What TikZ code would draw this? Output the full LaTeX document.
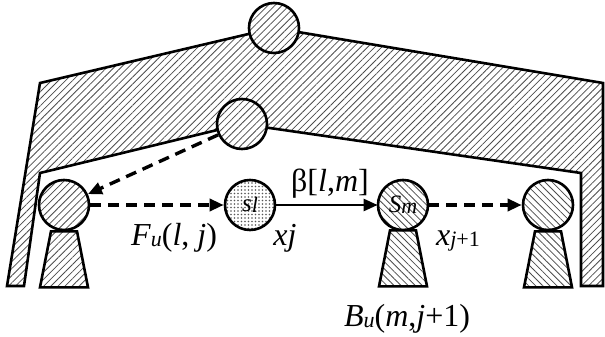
\documentclass[tikz,border=0pt]{standalone}
\usepackage{fontspec}
\setmainfont{Liberation Serif}
\usepackage{tikz}
\usetikzlibrary{calc, arrows.meta, patterns, patterns.meta}
\newcommand{\lo}[1]{\raisebox{-1pt}{\fontsize{22}{22}\selectfont #1}}

\begin{document}
\begin{tikzpicture}[x=1pt, y=-1pt,
    hatchr/.style = {pattern={Lines[angle=45, distance=5pt, line width=.8pt]}, pattern color=black!70},
    hatchl/.style = {pattern={Lines[angle=-45, distance=5pt, line width=.8pt]}, pattern color=black!70},
    dotty/.style = {pattern={Dots[distance=3.5pt, radius=.8pt]}, pattern color=black!65},
    ball/.style = {draw, circle, line width=2.6pt, minimum size=50pt, inner sep=0pt, preaction={fill=white}},
    thick line/.style = {line width=2.6pt, line join=miter},
    dasharrow/.style = {line width=3.4pt, dash pattern=on 11pt off 7pt, -{Triangle[length=14pt, width=12pt]}},
    fullarrow/.style = {line width=2.6pt, -{Triangle[length=14pt, width=12pt]}},
    lbl/.style = {anchor=base, inner sep=0pt, font=\fontsize{32}{33}\selectfont}]
      \useasboundingbox (0, 0) rectangle (605, 337);
      \coordinate (t) at (274, 28);
      \coordinate (mc) at (242, 124);
      \draw[thick line, hatchr] (7, 286) -- (40, 83) -- (t) -- (603, 83) -- (603, 286) -- (581, 286)
        -- (581, 173) -- (mc) -- (40, 173) -- (24, 286) -- cycle;
      \node[ball, hatchr] (top) at (t) {};
      \node[ball, hatchr] (mid) at (mc) {};
      \node[ball, hatchr] (lf) at (64, 205) {};
      \node[ball, dotty, font=\fontsize{25}{25}\selectfont] (sl) at (250, 205) {\textit{s}\lo{\textit{l}}};
      \node[ball, hatchl, font=\fontsize{25}{25}\selectfont] (sm) at (403, 205) {\textit{S}\lo{\textit{m}}};
      \node[ball, hatchl] (rt) at (548, 205) {};
      \foreach \n/\h in {lf/hatchr, sm/hatchl, rt/hatchl}
        \draw[thick line, \h] ($(\n.south)+(-13, 0)$) -- ($(\n.south)+(13, 0)$)
          -- ($(\n.south)+(24, 56)$) -- ($(\n.south)+(-24, 56)$) -- cycle;
      \draw[dasharrow] (mid) -- (lf);
      \draw[dasharrow] (lf) -- (sl);
      \draw[fullarrow] (sl) -- (sm);
      \draw[dasharrow] (sm) -- (rt);
      \node[lbl] (beta) at (330, 191) {β[\textit{l},\textit{m}]};
      \node[lbl] (fu) at (174, 245) {\textit{F}\lo{\textit{u}}(\textit{l}, \textit{j})};
      \node[lbl] (xj) at (285, 245) {\textit{xj}};
      \node[lbl] (xj1) at (458, 245) {\textit{x}\lo{\textit{j}+1}};
      \node[lbl] (bu) at (407, 326) {\textit{B}\lo{\textit{u}}(\textit{m},\textit{j}+1)};
    \end{tikzpicture}
\end{document}
